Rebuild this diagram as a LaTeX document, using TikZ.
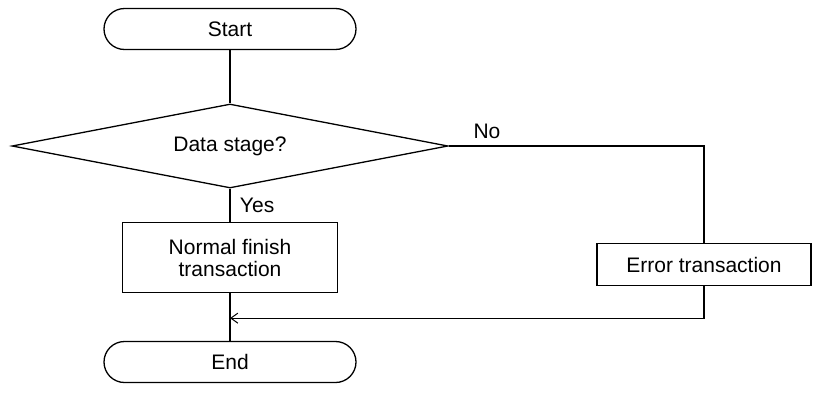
\documentclass[tikz,border=0pt]{standalone}
\usepackage{fontspec}
\setmainfont{Liberation Sans}
\usepackage{tikz}
\usetikzlibrary{arrows.meta,positioning,shapes.geometric,calc}

\begin{document}
\begin{tikzpicture}[
    x=1pt, y=-1pt,
    terminal/.style={
      draw,
      line width=1.3pt,
      minimum width=252pt,
      minimum height=41pt,
      rounded corners=20.5pt,
      font=\fontsize{21}{22}\selectfont
    },
    decision/.style={
      draw,
      diamond,
      aspect=5.2,
      line width=1.3pt,
      minimum width=436pt,
      minimum height=84pt,
      inner sep=0pt,
      font=\fontsize{21}{22}\selectfont
    },
    process/.style={
      draw,
      line width=1.3pt,
      minimum width=#1,
      align=center,
      font=\fontsize{21}{22}\selectfont
    },
    flow/.style={
      line width=1.3pt
    },
    flowarrow/.style={
      -{Straight Barb[length=7pt,width=10pt,line width=1pt]},
      line width=1.3pt
    }
  ]
  \useasboundingbox (0,0) rectangle (813,394);

  % Main column
  \node[terminal] (start) at (230,29) {Start};
  \node[decision] (stage) at (230,146) {Data stage?};
  \node[process=215pt, minimum height=70pt] (normal) at (230,257.5)
    {Normal finish\\transaction};
  \node[terminal] (end) at (230,362) {End};

  % Error branch
  \node[process=214pt, minimum height=42pt] (error) at (704,264.5)
    {Error transaction};
  \coordinate (turn) at (error.north |- stage.east);
  \coordinate (back) at ($(error.south)+(0,32)$);
  \coordinate (merge) at (normal.south |- back);

  % Connectors
  \draw[flow] (start) -- (stage);
  \draw[flow] (stage) -- (normal)
    node[pos=0.5,right=6pt,font=\fontsize{21}{22}\selectfont] {Yes};
  \draw[flow] (normal) -- (end);
  \draw[flow] (stage.east) -- (turn) -- (error.north);
  \node[font=\fontsize{21}{22}\selectfont] (no) at (487,131) {No};
  \draw[flowarrow] (error.south) -- (back) -- (merge);

\end{tikzpicture}
\end{document}
